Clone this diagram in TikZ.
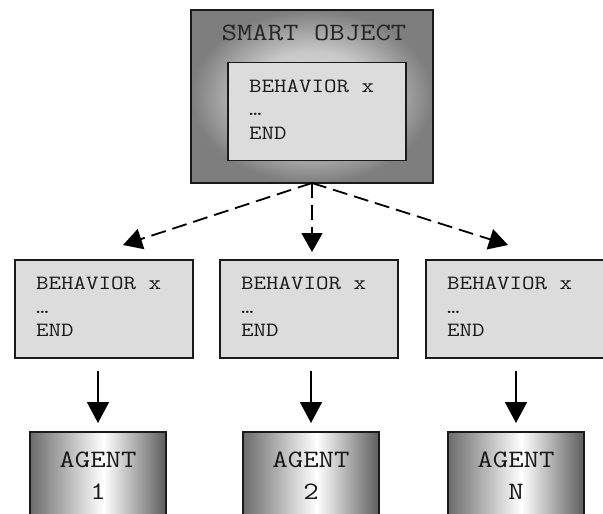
\documentclass[tikz,border=0pt]{standalone}
\usepackage{fontspec}
\setmonofont{Latin Modern Mono}[FakeStretch=1.2]
\usetikzlibrary{arrows.meta,calc}

\definecolor{boxfill}{HTML}{DCDCDC}
\definecolor{edge}{HTML}{1A1A1A}
\definecolor{objlight}{HTML}{E2E2E2}
\definecolor{objmid}{HTML}{C8C8C8}
\definecolor{objdark}{HTML}{7E7E7E}
\definecolor{agdark}{HTML}{6C6C6C}

% soft frame around the smart object: light in the middle, dark at the rim
\pgfdeclareradialshading{objshade}{\pgfpoint{0bp}{0bp}}{%
  color(0bp)=(objlight); color(13bp)=(objmid); color(25bp)=(objdark); color(50bp)=(objdark)}
% agent bodies: dark sides, bright band just right of the middle
\pgfdeclarehorizontalshading{agentshade}{100bp}{%
  color(0bp)=(agdark); color(25bp)=(agdark); color(52bp)=(white);
  color(75bp)=(agdark!110); color(100bp)=(agdark!110)}

\begin{document}
\begin{tikzpicture}[x=1pt,y=-1pt,
  objbox/.style={draw=edge, line width=1.6pt, shading=objshade,
    minimum width=242pt, minimum height=173pt, inner sep=0pt, outer sep=0pt},
  behbox/.style={draw=edge, line width=1.6pt, fill=boxfill,
    minimum width=178pt, minimum height=98pt, inner sep=0pt, outer sep=0pt},
  agentbox/.style={draw=edge, line width=1.6pt, shading=agentshade,
    minimum width=136pt, minimum height=120pt, inner sep=0pt, outer sep=0pt},
  behtext/.style={font=\ttfamily\fontsize{20.2}{23.5}\selectfont, align=left,
    inner sep=0pt, anchor=north west, text=black!90},
  titletext/.style={font=\ttfamily\fontsize{24.9}{30}\selectfont,
    inner sep=0pt, text=black!85},
  agenttext/.style={font=\ttfamily\fontsize{25}{32.5}\selectfont, align=center,
    inner sep=0pt, anchor=north, text=black!90},
  dasharrow/.style={draw=black, line width=1.8pt, dash pattern=on 15pt off 7pt,
    -{Triangle[length=19pt,width=21pt]}},
  flowarrow/.style={draw=black, line width=1.5pt,
    -{Triangle[length=21pt,width=22pt]}}
]
\useasboundingbox (0,0) rectangle (603,514);
\clip (0,0) rectangle (603,514);
\fill[white] (0,0) rectangle (603,514);

% smart object with its embedded behaviour
\node[objbox] (so) at (312,96.5) {};
\node[titletext, anchor=base] (sotitle) at ($(so.north)+(2,30)$) {SMART OBJECT};
\node[behbox] (inner) at (317,111.5) {};
\node[behtext] (innertext) at ($(inner.north west)+(21,17)$) {BEHAVIOR x\\…\\END};

% behaviour copies handed to the agents
\node[behbox] (b1) at (104,309) {};
\node[behbox] (b2) at (309,309) {};
\node[behbox] (b3) at (515,309) {};
\node[behtext] (b1text) at ($(b1.north west)+(21,17)$) {BEHAVIOR x\\…\\END};
\node[behtext] (b2text) at ($(b2.north west)+(21,17)$) {BEHAVIOR x\\…\\END};
\node[behtext] (b3text) at ($(b3.north west)+(21,17)$) {BEHAVIOR x\\…\\END};

% agents
\node[agentbox] (a1) at (98,492) {};
\node[agentbox] (a2) at (311,492) {};
\node[agentbox] (a3) at (516,492) {};
\node[agenttext] (a1text) at ($(a1.north)+(0,19.5)$) {AGENT\\1};
\node[agenttext] (a2text) at ($(a2.north)+(0,19.5)$) {AGENT\\2};
\node[agenttext] (a3text) at ($(a3.north)+(0,19.5)$) {AGENT\\N};

% distribution of the behaviour
\coordinate (t1) at (123,245);
\coordinate (t2) at (312,252);
\coordinate (t3) at (508,245);
\draw[dasharrow] (so.south) -- (t1);
\draw[dasharrow] (so.south) -- (t2);
\draw[dasharrow] (so.south) -- (t3);

% behaviour executed by each agent
\draw[flowarrow, shorten <=13pt, shorten >=9pt] (a1.north |- b1.south) -- (a1.north);
\draw[flowarrow, shorten <=13pt, shorten >=9pt] (a2.north |- b2.south) -- (a2.north);
\draw[flowarrow, shorten <=13pt, shorten >=9pt] (a3.north |- b3.south) -- (a3.north);
\end{tikzpicture}
\end{document}
